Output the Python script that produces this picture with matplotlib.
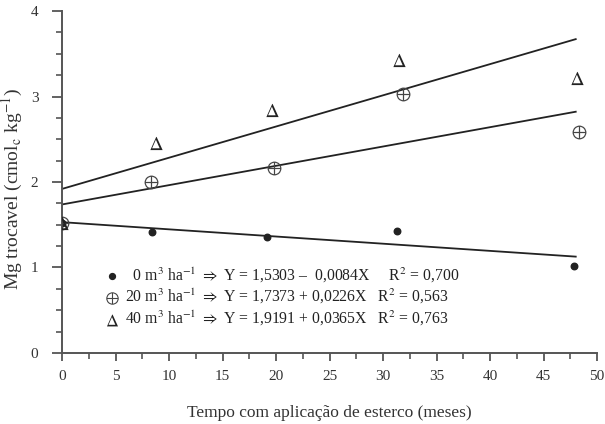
import matplotlib
matplotlib.use("Agg")
import matplotlib.pyplot as plt
from matplotlib.ticker import MultipleLocator

plt.rcParams['font.family'] = ['Liberation Serif', 'DejaVu Serif']
plt.rcParams['mathtext.fontset'] = 'stix'

# measured points (months, Mg)
x0 = [0, 8.4, 19.2, 31.3, 47.8]
y0 = [1.52, 1.42, 1.36, 1.43, 1.02]
x20 = [0, 8.3, 19.8, 31.9, 48.3]
y20 = [1.52, 2.00, 2.16, 3.03, 2.59]
x40 = [0, 8.8, 19.6, 31.5, 48.1]
y40 = [1.52, 2.46, 2.84, 3.43, 3.22]

# fitted lines
intercepts = [1.5303, 1.7373, 1.9191]
slopes = [-0.0084, 0.0226, 0.0365]
x_fit = [0, 48]

labels = [
    r"  0 m$^3$ ha$^{-1}$ $\Rightarrow$ Y = 1,5303 –  0,0084X     R$^2$ = 0,700",
    r"20 m$^3$ ha$^{-1}$ $\Rightarrow$ Y = 1,7373 + 0,0226X   R$^2$ = 0,563",
    r"40 m$^3$ ha$^{-1}$ $\Rightarrow$ Y = 1,9191 + 0,0365X   R$^2$ = 0,763",
]

ink = "#222222"
axc = "#555555"

fig = plt.figure(figsize=(6.05, 4.24), dpi=100)
ax = fig.add_axes([0.1025, 0.1675, 0.8845, 0.8065])

for b, m in zip(intercepts, slopes):
    ax.plot(x_fit, [b + m * x for x in x_fit], color=ink, lw=1.3, zorder=2)

s0 = ax.scatter(x0, y0, s=22, color=ink, zorder=3)
s20 = ax.scatter(x20, y20, marker=r'$\oplus$', s=100, color="#444444", linewidths=0, zorder=3)
s40 = ax.scatter(x40, y40, marker=r'$\Delta$', s=90, color=ink, linewidths=0, zorder=3)

leg = ax.legend([s0, s20, s40], labels, loc='center left',
                bbox_to_anchor=(0.08, 0.164), frameon=False, fontsize=11.3,
                handlelength=0.9, handletextpad=0.4, borderpad=0,
                borderaxespad=0, labelspacing=0.17, scatterpoints=1,
                markerscale=0.9)
for t in leg.get_texts():
    t.set_color(ink)

ax.set_xlim(0, 50)
ax.set_ylim(0, 4)
ax.xaxis.set_major_locator(MultipleLocator(5))
ax.xaxis.set_minor_locator(MultipleLocator(2.5))
ax.yaxis.set_major_locator(MultipleLocator(1))
ax.yaxis.set_minor_locator(MultipleLocator(0.25))

for side in ['top', 'right']:
    ax.spines[side].set_visible(False)
for side in ['left', 'bottom']:
    ax.spines[side].set_color(axc)
    ax.spines[side].set_linewidth(1.4)

ax.tick_params(axis='both', which='major', direction='out', color=axc, width=1.3,
               labelsize=11, labelcolor="#333333")
ax.tick_params(axis='y', which='major', length=7, pad=10)
ax.tick_params(axis='y', which='minor', length=4, width=1.2, color=axc)
ax.tick_params(axis='x', which='major', length=6, pad=6)
ax.tick_params(axis='x', which='minor', length=4, width=1.2, color=axc)

ax.set_xlabel("Tempo com aplicação de esterco (meses)", fontsize=12.5, color="#333333", labelpad=16)
ax.set_ylabel(r"Mg trocavel (cmol$_\mathrm{c}$ kg$^{-1}$)", fontsize=14, color="#333333")
ax.yaxis.set_label_coords(-0.07, 0.48)

fig.savefig("out.png", dpi=100)
